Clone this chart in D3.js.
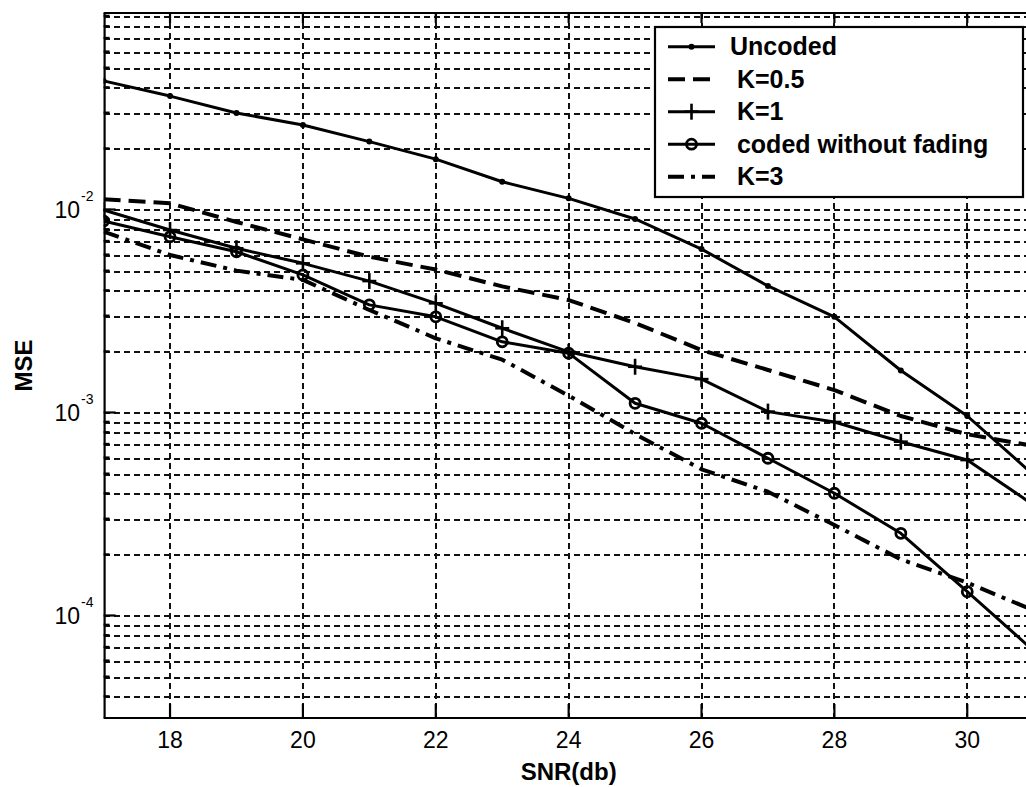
<!DOCTYPE html>
<html><head><meta charset="utf-8">
<script src="https://cdn.jsdelivr.net/npm/d3@7"></script>
<style>html,body{margin:0;padding:0;background:#fff;}svg{display:block;}</style>
</head><body>
<svg id="c" width="1026" height="787"></svg>
<script>
const snr = [17,18,19,20,21,22,23,24,25,26,27,28,29,30,31];
const uncoded = [0.0430,0.0362,0.0299,0.0261,0.0216,0.0177,0.0137,0.01135,0.00898,0.00638,0.00420,0.00296,0.00161,0.000961,0.000492];
const k05 = [0.01122,0.01073,0.00868,0.00713,0.00585,0.00506,0.00418,0.00358,0.00276,0.00203,0.00162,0.00129,0.000961,0.000781,0.000684];
const k1 = [0.00994,0.00792,0.00644,0.00543,0.00444,0.00345,0.00260,0.00199,0.00168,0.00146,0.00101,0.000898,0.000718,0.000583,0.000350];
const codedNoFading = [0.00878,0.00734,0.00619,0.00476,0.00339,0.00296,0.00223,0.00196,0.00111,0.000885,0.000595,0.000400,0.000254,0.000131,0.0000670];
const k3 = [0.00778,0.00597,0.00500,0.00450,0.00320,0.00232,0.00182,0.00121,0.000783,0.000525,0.000407,0.000279,0.000189,0.000145,0.000106];
const seriesNames = ["Uncoded"," K=0.5"," K=1"," coded without fading"," K=3"];
const xTicks = [18,20,22,24,26,28,30];
const yMajor = [1e-4,1e-3,1e-2];
const yMajorLabels = ["-4","-3","-2"];
const xLabel = "SNR(db)";
const yLabel = "MSE";

const svg = d3.select("#c");
const L = 103.6, R = 1033.7, T = 13, B = 718;
const x = d3.scaleLinear().domain([17,31]).range([L,R]);
const y = d3.scaleLog().domain([Math.pow(10,-4.505), Math.pow(10,-1.032)]).range([B,T]);

svg.append("defs").append("clipPath").attr("id","clip")
  .append("rect").attr("x",L).attr("y",T).attr("width",R-L).attr("height",B-T);

const yGrid = [];
for (let e=-5;e<=-1;e++) for (let m=1;m<=9;m++){const v=m*Math.pow(10,e); if(v>y.domain()[0] && v<y.domain()[1]) yGrid.push(v);}

const grid = svg.append("g").attr("clip-path","url(#clip)").attr("shape-rendering","crispEdges");
grid.selectAll("line.h").data(yGrid).join("line")
  .attr("x1",L).attr("x2",R).attr("y1",d=>Math.round(y(d))+0.5).attr("y2",d=>Math.round(y(d))+0.5)
  .attr("stroke","#111").attr("stroke-width",2).attr("stroke-dasharray","6,4");
grid.selectAll("line.v").data(xTicks).join("line")
  .attr("x1",d=>Math.round(x(d))).attr("x2",d=>Math.round(x(d))).attr("y1",T).attr("y2",B)
  .attr("stroke","#111").attr("stroke-width",2).attr("stroke-dasharray","6,4");

const ax = svg.append("g").attr("stroke","#000").attr("stroke-width",2.2);
ax.append("line").attr("x1",L).attr("x2",1026).attr("y1",B).attr("y2",B);
ax.append("line").attr("x1",L).attr("x2",1026).attr("y1",T).attr("y2",T);
ax.append("line").attr("x1",L+1).attr("x2",L+1).attr("y1",T).attr("y2",B);
xTicks.forEach(t=>{
  ax.append("line").attr("x1",x(t)).attr("x2",x(t)).attr("y1",B).attr("y2",B-14);
  ax.append("line").attr("x1",x(t)).attr("x2",x(t)).attr("y1",T).attr("y2",T+10);
});
yGrid.forEach(v=>{
  const maj = yMajor.some(m=>Math.abs(m-v)/m<1e-6);
  ax.append("line").attr("x1",L).attr("x2",L+(maj?12:6)).attr("y1",y(v)).attr("y2",y(v));
});

svg.append("g").selectAll("text").data(xTicks).join("text")
  .attr("x",d=>x(d)).attr("y",748).attr("text-anchor","middle")
  .attr("font-family","Liberation Sans, Arial, sans-serif").attr("font-size",23)
  .text(d=>d);
yMajor.forEach((v,i)=>{
  svg.append("text").attr("x",80).attr("y",y(v)+8.5).attr("text-anchor","end")
    .attr("font-family","Liberation Sans, Arial, sans-serif").attr("font-size",23).text("10");
  svg.append("text").attr("x",81).attr("y",y(v)-8).attr("text-anchor","start")
    .attr("font-family","Liberation Sans, Arial, sans-serif").attr("font-size",14).text(yMajorLabels[i]);
});
svg.append("text").attr("x",(L+R)/2).attr("y",780).attr("text-anchor","middle")
  .attr("font-family","Liberation Sans, Arial, sans-serif").attr("font-weight","bold").attr("font-size",24).text(xLabel);
svg.append("text").attr("transform",`translate(32,${(T+B)/2}) rotate(-90)`).attr("text-anchor","middle")
  .attr("font-family","Liberation Sans, Arial, sans-serif").attr("font-weight","bold").attr("font-size",24).text(yLabel);

const data = [uncoded,k05,k1,codedNoFading,k3];
const styles = [
  {dash:null, w:3, marker:"dot"},
  {dash:"17,8", w:4, marker:null},
  {dash:null, w:3, marker:"plus"},
  {dash:null, w:3, marker:"circle"},
  {dash:"16,7,4,7", w:4, marker:null}
];
const line = d3.line().x(d=>x(d[0])).y(d=>y(d[1]));
const plot = svg.append("g").attr("clip-path","url(#clip)");
function drawMarker(g, kind, cx, cy){
  if(kind==="dot") g.append("circle").attr("cx",cx).attr("cy",cy).attr("r",3).attr("fill","#000");
  if(kind==="plus"){
    g.append("line").attr("x1",cx-7).attr("x2",cx+7).attr("y1",cy).attr("y2",cy).attr("stroke","#000").attr("stroke-width",2.6);
    g.append("line").attr("x1",cx).attr("x2",cx).attr("y1",cy-8).attr("y2",cy+8).attr("stroke","#000").attr("stroke-width",2.6);
  }
  if(kind==="circle") g.append("circle").attr("cx",cx).attr("cy",cy).attr("r",5).attr("fill","none").attr("stroke","#000").attr("stroke-width",2.8);
}
data.forEach((vals,i)=>{
  const pts = snr.map((s,j)=>[s,vals[j]]);
  const st = styles[i];
  plot.append("path").datum(pts).attr("d",line).attr("fill","none").attr("stroke","#000")
    .attr("stroke-width",st.w).attr("stroke-dasharray",st.dash).attr("stroke-linejoin","round");
  if(st.marker) pts.forEach(p=>drawMarker(plot, st.marker, x(p[0]), y(p[1])));
});

const lg = svg.append("g");
lg.append("rect").attr("x",655).attr("y",27).attr("width",368).attr("height",170)
  .attr("fill","#fff").attr("stroke","#000").attr("stroke-width",2.2);
seriesNames.forEach((n,i)=>{
  const cy = 46.7 + i*32.5;
  const st = styles[i];
  lg.append("line").attr("x1",668).attr("x2",715).attr("y1",cy).attr("y2",cy)
    .attr("stroke","#000").attr("stroke-width",st.w).attr("stroke-dasharray",st.dash);
  if(st.marker) drawMarker(lg, st.marker, 691.5, cy);
  lg.append("text").attr("x",730).attr("y",cy+8.5).attr("xml:space","preserve").style("white-space","pre")
    .attr("font-family","Liberation Sans, Arial, sans-serif").attr("font-weight","bold").attr("font-size",25)
    .text(n);
});
</script>
</body></html>
